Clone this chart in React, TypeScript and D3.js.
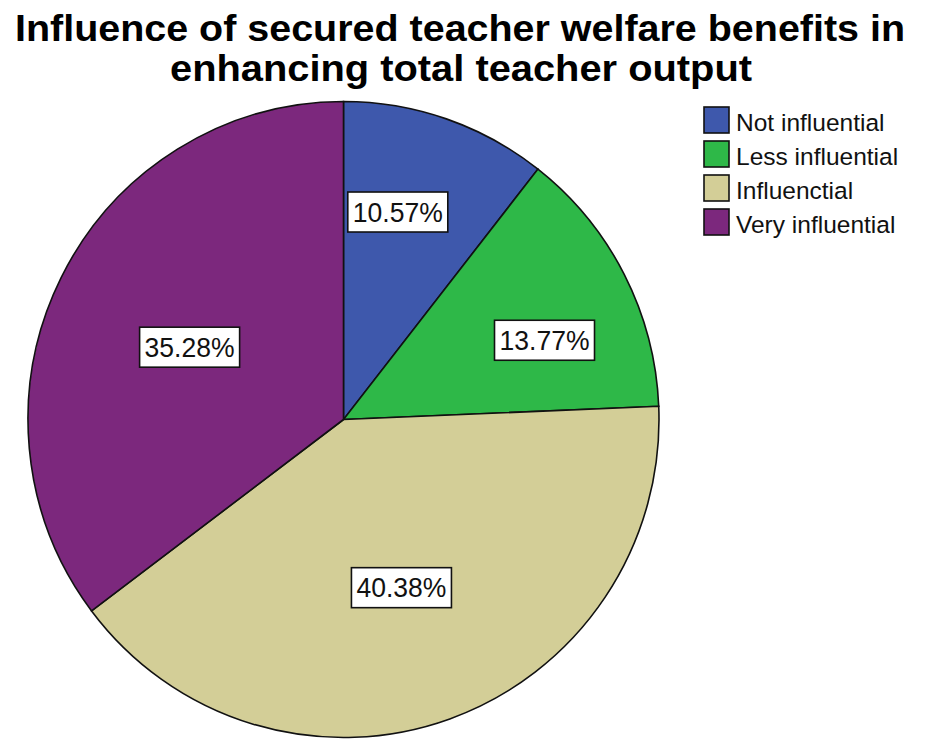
import React from "react";
import * as d3 from "d3";

const categories = ["Not influential", "Less influential", "Influenctial", "Very influential"];
const values = [10.57, 13.77, 40.38, 35.28];
const colors = ["#3E58AC", "#2EB848", "#D3CE97", "#7C287D"];
const titleLines = [
  "Influence of secured teacher welfare benefits in",
  "enhancing total teacher output",
];

const W = 927;
const H = 742;
const cx = 343.5;
const cy = 419.5;
const rx = 315.5;
const ry = 318;

export default function App() {
  const pie = d3.pie<number>().sort(null).value((d) => d);
  const arcs = pie(values);
  const arc = d3.arc<d3.PieArcDatum<number>>().innerRadius(0).outerRadius(rx);
  const total = d3.sum(values);

  return (
    <svg
      width={W}
      height={H}
      style={{ position: "absolute", left: 0, top: 0, background: "#fff" }}
      fontFamily="Arial, 'Liberation Sans', sans-serif"
    >
      <text x={460} y={41} textAnchor="middle" fontSize={36} fontWeight="bold" textLength={890} lengthAdjust="spacingAndGlyphs">
        {titleLines[0]}
      </text>
      <text x={461} y={81} textAnchor="middle" fontSize={36} fontWeight="bold" textLength={582} lengthAdjust="spacingAndGlyphs">
        {titleLines[1]}
      </text>

      <g transform={`translate(${cx},${cy}) scale(1,${ry / rx})`}>
        {arcs.map((a, i) => (
          <path key={i} d={arc(a) || ""} fill={colors[i]} stroke="#111" strokeWidth={1.6} />
        ))}
      </g>

      {arcs.map((a, i) => {
        const frac = values[i] / total;
        const k = frac > 0.3 ? 0.545 : 0.69;
        const mid = (a.startAngle + a.endAngle) / 2 + (frac > 0.3 ? 0 : 0.04 * (i === 0 ? -2 : 2));
        const x = cx + Math.sin(mid) * rx * k;
        const y = cy - Math.cos(mid) * ry * k + 5;
        const bw = 100;
        const bh = 40;
        return (
          <g key={"l" + i}>
            <rect x={x - bw / 2} y={y - bh / 2} width={bw} height={bh} fill="#fff" stroke="#111" strokeWidth={1.6} />
            <text x={x} y={y + 9.5} textAnchor="middle" fontSize={27} fill="#111" textLength={90} lengthAdjust="spacingAndGlyphs">
              {values[i].toFixed(2)}%
            </text>
          </g>
        );
      })}

      {categories.map((c, i) => (
        <g key={"lg" + i} transform={`translate(704,${107 + i * 34})`}>
          <rect x={0} y={0} width={25} height={26} fill={colors[i]} stroke="#111" strokeWidth={1.6} />
          <text x={32} y={24} fontSize={24.5} fill="#111">
            {c}
          </text>
        </g>
      ))}
    </svg>
  );
}
